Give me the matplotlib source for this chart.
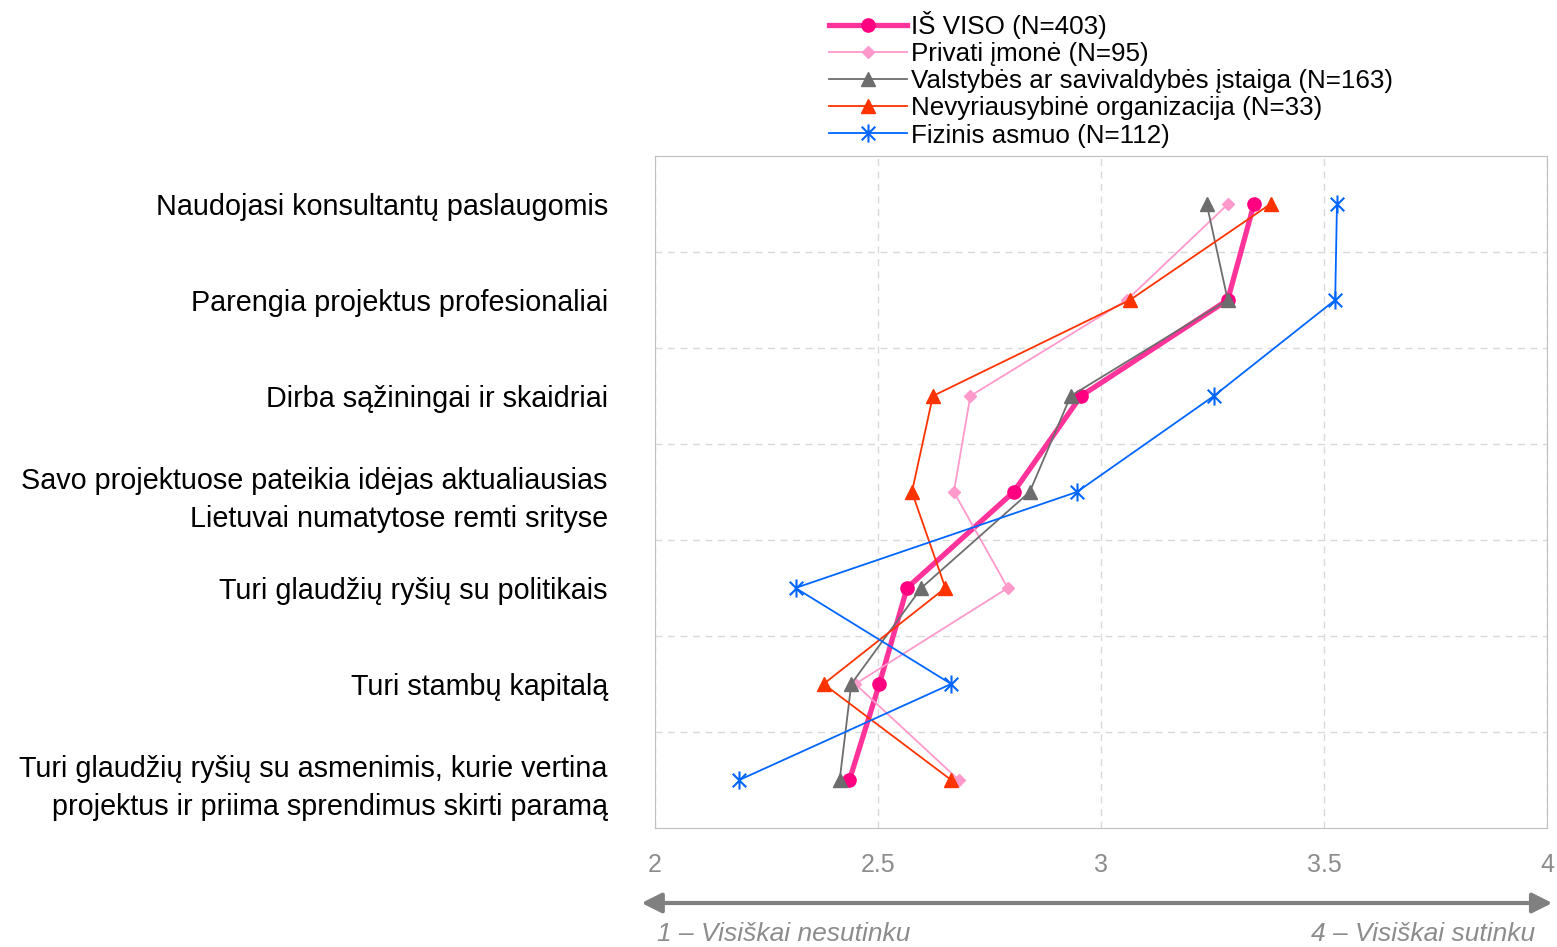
import matplotlib.pyplot as plt
import numpy as np
from matplotlib.path import Path

plt.rcParams['font.family'] = ['Liberation Sans', 'DejaVu Sans']

kategorijos = [
    'Naudojasi konsultantų paslaugomis',
    'Parengia projektus profesionaliai',
    'Dirba sąžiningai ir skaidriai',
    'Savo projektuose pateikia idėjas aktualiausias\nLietuvai numatytose remti srityse',
    'Turi glaudžių ryšių su politikais',
    'Turi stambų kapitalą',
    'Turi glaudžių ryšių su asmenimis, kurie vertina\nprojektus ir priima sprendimus skirti paramą',
]

is_viso = [3.343, 3.284, 2.955, 2.804, 2.565, 2.503, 2.436]
privati = [3.285, 3.058, 2.707, 2.670, 2.791, 2.449, 2.681]
valstybes = [3.237, 3.284, 2.932, 2.840, 2.597, 2.440, 2.414]
nevyriausybine = [3.380, 3.065, 2.623, 2.576, 2.651, 2.378, 2.664]
fizinis = [3.529, 3.525, 3.253, 2.946, 2.315, 2.664, 2.189]

x_ticks = [2, 2.5, 3, 3.5, 4]
x_tick_labels = ['2', '2.5', '3', '3.5', '4']

# žvaigždutės žymeklis: x su vertikalia linija
zvaigzde = Path([(0, -1), (0, 1), (-0.75, -0.75), (0.75, 0.75), (-0.75, 0.75), (0.75, -0.75)],
                [Path.MOVETO, Path.LINETO, Path.MOVETO, Path.LINETO, Path.MOVETO, Path.LINETO])

fig = plt.figure(figsize=(15.57, 9.47), dpi=100)
ax = fig.add_axes([0.4207, 0.1257, 0.5729, 0.7096])

y = np.arange(len(kategorijos))

ax.plot(is_viso, y, color='#ff3399', lw=3.8, marker='o', ms=9.5,
        mfc='#ff0080', mec='#ff0080', label='IŠ VISO (N=403)', zorder=3)
ax.plot(privati, y, color='#ff99cc', lw=1.3, marker='D', ms=6.5,
        mfc='#ff99cc', mec='#ff99cc', label='Privati įmonė (N=95)', zorder=4)
ax.plot(valstybes, y, color='#6d6d6d', lw=1.3, marker='^', ms=9.5,
        mfc='#6d6d6d', mec='#6d6d6d',
        label='Valstybės ar savivaldybės įstaiga (N=163)', zorder=4)
ax.plot(nevyriausybine, y, color='#ff3300', lw=1.3, marker='^', ms=9.5,
        mfc='#ff3300', mec='#ff3300',
        label='Nevyriausybinė organizacija (N=33)', zorder=4)
ax.plot(fizinis, y, color='#0066ff', lw=1.3, marker=zvaigzde, ms=13,
        mew=1.5, mec='#0066ff', mfc='none', label='Fizinis asmuo (N=112)', zorder=4)

ax.set_xlim(2, 4)
ax.set_ylim(6.5, -0.5)
ax.set_xticks(x_ticks)
ax.set_xticklabels(x_tick_labels, color='#8c8c8c', fontsize=18)
ax.set_yticks(y)
ax.set_yticklabels(kategorijos, fontsize=20.7, linespacing=1.45)
ax.set_yticks(np.arange(0.5, 6.5, 1), minor=True)
ax.tick_params(axis='x', length=0, pad=18)
ax.tick_params(axis='y', which='both', length=0, pad=34)

ax.grid(True, axis='x', which='major', ls=(0, (5, 4)), color='#d9d9d9', lw=1)
ax.grid(True, axis='y', which='minor', ls=(0, (5, 4)), color='#d9d9d9', lw=1)
for s in ax.spines.values():
    s.set_color('#bfbfbf')

leg = fig.legend(loc='upper left', bbox_to_anchor=(0.524, 1.002), frameon=False,
                 fontsize=18.7, handlelength=3.0, handletextpad=0.15,
                 labelspacing=0.12, borderpad=0)

# rodyklė po ašimi
ax.annotate('', xy=(0.412, 1 - 903 / 947), xytext=(0.997, 1 - 903 / 947),
            xycoords='figure fraction',
            arrowprops=dict(arrowstyle='<|-|>', color='#808080', lw=3,
                            mutation_scale=30, shrinkA=0, shrinkB=0))
fig.text(0.422, 1 - 934 / 947, '1 – Visiškai nesutinku', style='italic',
         color='#8c8c8c', fontsize=19, va='center', ha='left')
fig.text(0.986, 1 - 934 / 947, '4 – Visiškai sutinku', style='italic',
         color='#8c8c8c', fontsize=19, va='center', ha='right')

fig.savefig('out.png', dpi=100)
